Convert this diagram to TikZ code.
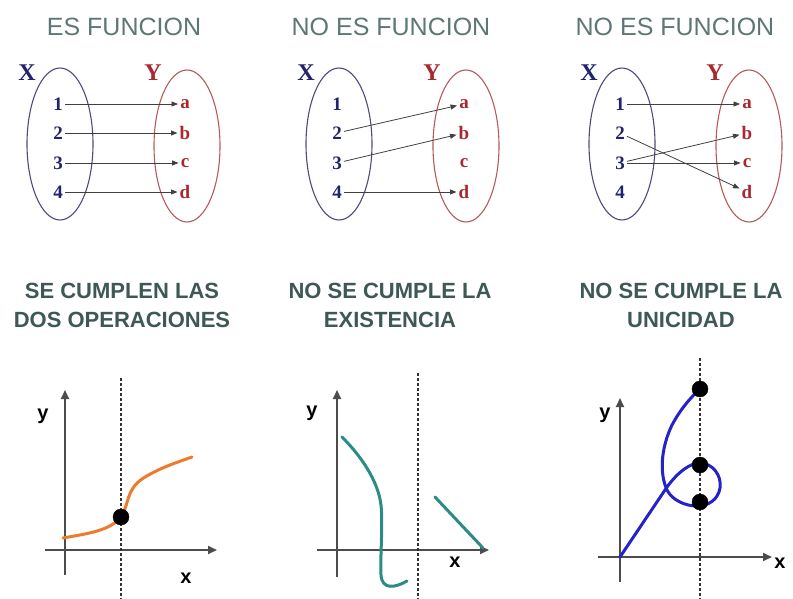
\documentclass[tikz,border=0pt]{standalone}
\usepackage{fontspec}
\setmainfont{Liberation Serif}
\newfontfamily\headfont{Liberation Sans}
\usetikzlibrary{arrows.meta,shapes.geometric}

\definecolor{titlegray}{HTML}{5E7775}
\definecolor{titledark}{HTML}{3E5856}
\definecolor{navy}{HTML}{22226E}
\definecolor{maroon}{HTML}{A8282F}
\definecolor{setxcol}{HTML}{4B4B7E}
\definecolor{setycol}{HTML}{B45A5A}
\definecolor{curveorange}{HTML}{EE7B2B}
\definecolor{curveteal}{HTML}{2A8C84}
\definecolor{curveblue}{HTML}{2323C8}

\begin{document}
\begin{tikzpicture}[x=1pt, y=-1pt,
    dot/.style={circle, draw, fill, inner sep=0pt, minimum size=16pt},
    setx/.style={ellipse, draw=setxcol, line width=1.1pt, minimum width=66pt, minimum height=152pt, inner sep=0pt},
    sety/.style={ellipse, draw=setycol, line width=1.1pt, minimum width=66pt, minimum height=152pt, inner sep=0pt},
    num/.style={text=navy, font=\fontsize{19}{19}\selectfont\bfseries, inner sep=2pt},
    let/.style={text=maroon, font=\fontsize{19}{19}\selectfont\bfseries, inner sep=2pt},
    setlabel/.style={font=\fontsize{24}{24}\selectfont\bfseries},
    map/.style={draw=black!75, line width=0.8pt, -{Triangle[length=6.5pt,width=5pt]}},
    title/.style={text=titlegray, font=\headfont\fontsize{25}{25}\selectfont},
    cond/.style={text=titledark, align=center, font=\headfont\bfseries\fontsize{22}{29}\selectfont},
    axis/.style={draw=black!70, line width=1.8pt, -{Triangle[length=9pt,width=8pt]}},
    guide/.style={draw=black!80, line width=1.2pt, dash pattern=on 2.5pt off 2.5pt},
    axlabel/.style={font=\headfont\bfseries\fontsize{20}{20}\selectfont}]

\useasboundingbox (0,0) rectangle (793,599);

% titles
\node[title] (t1) at (124,27) {ES FUNCION};
\node[title] (t2) at (391,27) {NO ES FUNCION};
\node[title] (t3) at (675,27) {NO ES FUNCION};
\node[cond] (c1) at (122,305) {SE CUMPLEN LAS\\DOS OPERACIONES};
\node[cond] (c2) at (390,305) {NO SE CUMPLE LA\\EXISTENCIA};
\node[cond] (c3) at (681,305) {NO SE CUMPLE LA\\UNICIDAD};

\begin{scope}
    % sets
    \node[setx] (ux) at (60,144) {};
    \node[sety] (uy) at (187,146) {};
    \node[setlabel, text=navy] (uxl) at (27,73) {X};
    \node[setlabel, text=maroon] (uyl) at (153,73) {Y};
    % elements
    \node[num] (u1) at (58,104) {1};
    \node[num] (u2) at (58,133) {2};
    \node[num] (u3) at (58,163) {3};
    \node[num] (u4) at (58,192) {4};
    \node[let] (ua) at (185,104) {a};
    \node[let] (ub) at (185,133) {b};
    \node[let] (uc) at (185,163) {c};
    \node[let] (ud) at (185,192) {d};
    % arrows
    \draw[map] (u1) -- (ua);
    \draw[map] (u2) -- (ub);
    \draw[map] (u3) -- (uc);
    \draw[map] (u4) -- (ud);
\end{scope}

\begin{scope}[xshift=279pt]
    % sets
    \node[setx] (vx) at (60,144) {};
    \node[sety] (vy) at (187,146) {};
    \node[setlabel, text=navy] (vxl) at (27,73) {X};
    \node[setlabel, text=maroon] (vyl) at (153,73) {Y};
    % elements
    \node[num] (v1) at (58,104) {1};
    \node[num] (v2) at (58,133) {2};
    \node[num] (v3) at (58,163) {3};
    \node[num] (v4) at (58,192) {4};
    \node[let] (va) at (185,104) {a};
    \node[let] (vb) at (185,133) {b};
    \node[let] (vc) at (185,163) {c};
    \node[let] (vd) at (185,192) {d};
    % arrows
    \draw[map] (v2) -- (va);
    \draw[map] (v3) -- (vb);
    \draw[map] (v4) -- (vd);
\end{scope}

\begin{scope}[xshift=562pt]
    % sets
    \node[setx] (wx) at (60,144) {};
    \node[sety] (wy) at (187,146) {};
    \node[setlabel, text=navy] (wxl) at (27,73) {X};
    \node[setlabel, text=maroon] (wyl) at (153,73) {Y};
    % elements
    \node[num] (w1) at (58,104) {1};
    \node[num] (w2) at (58,133) {2};
    \node[num] (w3) at (58,163) {3};
    \node[num] (w4) at (58,192) {4};
    \node[let] (wa) at (185,104) {a};
    \node[let] (wb) at (185,133) {b};
    \node[let] (wc) at (185,163) {c};
    \node[let] (wd) at (185,192) {d};
    % arrows
    \draw[map] (w1) -- (wa);
    \draw[map] (w2) -- (wd);
    \draw[map] (w3) -- (wb);
    \draw[map] (w3) -- (wc);
\end{scope}

% graph 1
\draw[axis] (65,575) -- (65,390);
\draw[axis] (45,550) -- (217,550);
\node[axlabel] (g1y) at (43,416) {y};
\node[axlabel] (g1x) at (186,578) {x};
\draw[guide] (121,378) -- (121,599);
\draw[curveorange, line width=3pt, line cap=round] (63,538) .. controls (92,533) and (110,530) .. (121,517)
    .. controls (129,505) and (126,490) .. (142,479) .. controls (157,469) and (175,463) .. (192,457);
\node[dot] (p1) at (121,517) {};

% graph 2
\draw[axis] (337,577) -- (337,390);
\draw[axis] (317,550) -- (489,550);
\node[axlabel] (g2y) at (312,413) {y};
\node[axlabel] (g2x) at (455,562) {x};
\draw[guide] (418,373) -- (418,599);
\draw[curveteal, line width=3pt, line cap=round] (342,437) .. controls (360,455) and (378,480) .. (381,505)
    .. controls (383,525) and (380,560) .. (381,575) .. controls (382,590) and (395,588) .. (407,581);
\draw[curveteal, line width=3pt, line cap=round] (435,497) -- (483,548);

% graph 3
\draw[axis] (620,582) -- (620,398);
\draw[axis] (598,557) -- (772,557);
\node[axlabel] (g3y) at (605,415) {y};
\node[axlabel] (g3x) at (780,563) {x};
\draw[guide] (700,358) -- (700,599);
\draw[curveblue, line width=3pt, line cap=round] (620,557) -- (667,487)
    .. controls (678,472) and (690,463) .. (700,463) .. controls (712,463) and (722,475) .. (720,488)
    .. controls (718,500) and (708,506) .. (697,506) .. controls (685,506) and (672,500) .. (667,490)
    .. controls (660,475) and (660,450) .. (672,425) .. controls (680,410) and (690,398) .. (700,389);
\node[dot] (q1) at (700,389) {};
\node[dot] (q2) at (700,465) {};
\node[dot] (q3) at (700,502) {};
\end{tikzpicture}
\end{document}
